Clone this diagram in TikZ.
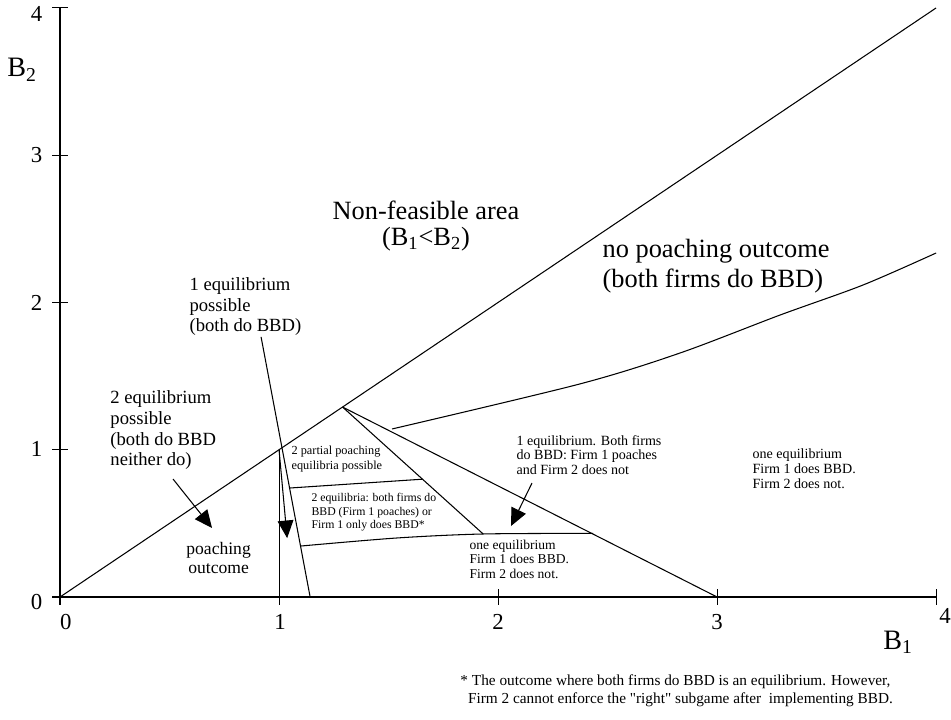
\documentclass[tikz,border=0pt]{standalone}
\usepackage{fontspec}
\setmainfont{Liberation Serif}
\usetikzlibrary{arrows.meta}

\begin{document}
\begin{tikzpicture}[x=4.38cm, y=2.945cm, line width=0.6pt,
    every node/.style={inner sep=0pt},
    pointer/.style={-{Triangle[length=10pt, width=9pt]}},
    bigtext/.style={font=\fontsize{15}{15}\selectfont, align=left},
    midtext/.style={font=\fontsize{10.6}{11.8}\selectfont, align=left},
    smalltext/.style={font=\fontsize{8}{8.5}\selectfont, align=left},
    tinytext/.style={font=\fontsize{6.7}{7.8}\selectfont, align=left},
    ticklabel/.style={font=\fontsize{13}{13}\selectfont},
    axislabel/.style={font=\fontsize{16}{16}\selectfont}]
    \useasboundingbox (-0.274,-0.8285) rectangle (4.068,4.054);

    % Axes
    \coordinate (O) at (0,0);
    \coordinate (xend) at (4,0);
    \coordinate (yend) at (0,4);
    \draw (O) -- (xend);
    \draw (O) -- (yend);
    \draw (0,0) ++(0,-4.5pt) -- ++(0,9pt);
    \draw (1,0) ++(0,-4.5pt) -- ++(0,9pt);
    \draw (2,0) ++(0,-4.5pt) -- ++(0,9pt);
    \draw (3,0) ++(0,-4.5pt) -- ++(0,9pt);
    \draw (4,0) ++(0,-4.5pt) -- ++(0,9pt);
    \draw (0,0) ++(-4.5pt,0) -- ++(9pt,0);
    \draw (0,1) ++(-4.5pt,0) -- ++(9pt,0);
    \draw (0,2) ++(-4.5pt,0) -- ++(9pt,0);
    \draw (0,3) ++(-4.5pt,0) -- ++(9pt,0);
    \draw (0,4) ++(-4.5pt,0) -- ++(9pt,0);

    % Tick labels
    \node (xlab0) [ticklabel] at (0.027,-0.17) {0};
    \node (xlab1) [ticklabel] at (1.005,-0.17) {1};
    \node (xlab2) [ticklabel] at (2.0,-0.17) {2};
    \node (xlab3) [ticklabel] at (3.0,-0.17) {3};
    \node (xlab4) [ticklabel] at (4.041,-0.13) {4};
    \node (ylab0) [ticklabel, anchor=east] at (-0.078,-0.034) {0};
    \node (ylab1) [ticklabel, anchor=east] at (-0.078,1.005) {1};
    \node (ylab2) [ticklabel, anchor=east] at (-0.078,2.0) {2};
    \node (ylab3) [ticklabel, anchor=east] at (-0.078,3.0) {3};
    \node (ylab4) [ticklabel, anchor=east] at (-0.078,3.959) {4};
    \node (bone) [axislabel] at (3.826,-0.306) {B\textsubscript{1}};
    \node (btwo) [axislabel] at (-0.1735,3.58) {B\textsubscript{2}};

    % Region boundaries
    \coordinate (diagend) at (4,4);
    \coordinate (kink) at (1.29,1.29);
    \coordinate (oneone) at (1,1);
    \coordinate (onex) at (1,0);
    \coordinate (threex) at (3,0);
    \coordinate (steeptop) at (0.918,1.766);
    \coordinate (steepbot) at (1.142,0);
    \coordinate (midend) at (1.932,0.428);
    \draw (O) -- (diagend);
    \draw (steeptop) -- (steepbot);
    \draw (onex) -- (oneone);
    \draw (kink) -- (threex);
    \draw (kink) -- (midend);
    \draw (1.048,0.740) -- (1.655,0.800);
    \draw plot[smooth] coordinates {(1.098,0.346) (1.54,0.401) (1.932,0.428) (2.434,0.432)};
    \draw plot[smooth] coordinates {(1.516,1.141) (2.374,1.447) (2.831,1.657) (3.288,1.915) (3.667,2.119) (4,2.336)};

    % Region labels (anchored at the baseline of their last line)
    \node (nonfeas) [bigtext, align=center, anchor=base] at (1.671,2.384) {Non-feasible area\\(B\textsubscript{1}<B\textsubscript{2})};
    \node (nopoach) [bigtext, anchor=base west] at (2.475,2.105) {no poaching outcome\\[2pt](both firms do BBD)};
    \node (oneeqposs) [midtext, anchor=base west] at (0.589,1.800) {1 equilibrium\\possible\\(both do BBD)};
    \node (twoeqposs) [midtext, anchor=base west] at (0.228,0.890) {2 equilibrium\\possible\\(both do BBD\\neither do)};
    \node (poach) [font=\fontsize{10}{10.4}\selectfont, align=center, anchor=base] at (0.724,0.163) {poaching\\outcome};
    \node (partial) [tinytext, font=\fontsize{7}{8}\selectfont, anchor=base west] at (1.055,0.869) {2 partial poaching\\equilibria possible};
    \node (twoeqbbd) [tinytext, anchor=base west] at (1.146,0.462) {2 equilibria: both firms do\\BBD (Firm 1 poaches) or\\Firm 1 only does BBD*};
    \node (oneeqmid) [smalltext, font=\fontsize{7.7}{8}\selectfont, anchor=base west] at (1.868,0.129) {one equilibrium\\Firm 1 does BBD.\\Firm 2 does not.};
    \node (oneeqboth) [smalltext, anchor=base west] at (2.082,0.829) {1 equilibrium. Both firms\\do BBD: Firm 1 poaches\\and Firm 2 does not};
    \node (oneeqright) [smalltext, anchor=base west] at (3.16,0.740) {one equilibrium\\Firm 1 does BBD.\\Firm 2 does not.};
    \node (footnote) [font=\fontsize{8.7}{10.2}\selectfont, align=left, anchor=base west] at (1.826,-0.720) {* The outcome where both firms do BBD is an equilibrium. However,\\\hspace*{0.5em}Firm 2 cannot enforce the \textquotedbl right\textquotedbl{} subgame after~ implementing BBD.};

    % Arrows
    \coordinate (twoeqtip) at (0.694,0.469);
    \coordinate (twoeqtail) at (0.516,0.801);
    \coordinate (onetip) at (1.037,0.40);
    \coordinate (bothtail) at (2.155,0.774);
    \coordinate (bothtip) at (2.059,0.482);
    \draw[pointer] (twoeqtail) -- (twoeqtip);
    \draw[pointer] (oneone) -- (onetip);
    \draw[pointer] (bothtail) -- (bothtip);
\end{tikzpicture}
\end{document}
